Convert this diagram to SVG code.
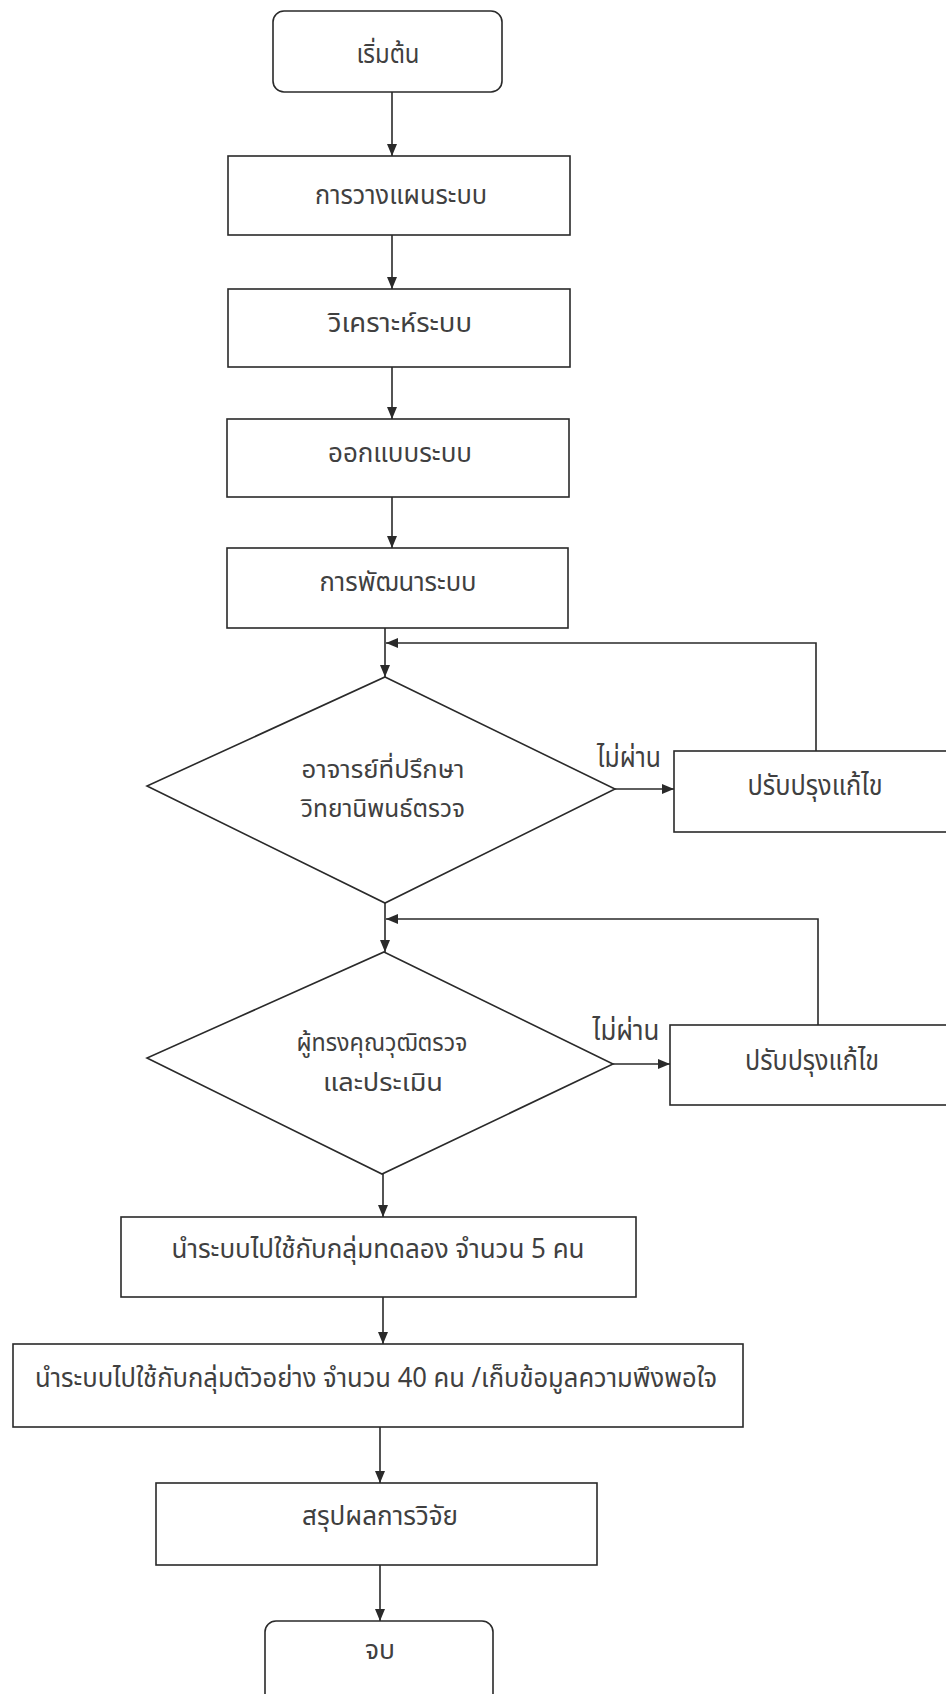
<svg xmlns="http://www.w3.org/2000/svg" width="946" height="1694" viewBox="0 0 946 1694">
<defs>
<style>
.n{fill:#fff;stroke:#2a2a2a;stroke-width:1.6}
.c{fill:none;stroke:#2a2a2a;stroke-width:1.6}
.t{font-family:"Noto Sans Thai","Noto Sans","DejaVu Sans",sans-serif;font-size:27px;fill:#404040;text-anchor:middle}
.d{font-family:"Noto Sans Thai","Noto Sans","DejaVu Sans",sans-serif;font-size:28px;fill:#404040;text-anchor:middle}
.q{font-family:"Noto Sans Thai","Noto Sans","DejaVu Sans",sans-serif;font-size:25px;fill:#404040;text-anchor:middle}
</style>
<marker id="ah" viewBox="0 0 12 10" refX="12" refY="5" markerWidth="12" markerHeight="10" markerUnits="userSpaceOnUse" orient="auto">
<path d="M0,0 L12,5 L0,10 Z" fill="#2a2a2a"/>
</marker>
</defs>
<rect width="946" height="1694" fill="#fff"/>
<g id="connectors">
<line class="c" x1="392" y1="92" x2="392" y2="156" marker-end="url(#ah)"/>
<line class="c" x1="392" y1="235" x2="392" y2="289" marker-end="url(#ah)"/>
<line class="c" x1="392" y1="367" x2="392" y2="419" marker-end="url(#ah)"/>
<line class="c" x1="392" y1="497" x2="392" y2="548" marker-end="url(#ah)"/>
<line class="c" x1="385" y1="628" x2="385" y2="677" marker-end="url(#ah)"/>
<polyline class="c" points="816,751 816,643 386,643" marker-end="url(#ah)"/>
<line class="c" x1="615" y1="789" x2="674" y2="789" marker-end="url(#ah)"/>
<line class="c" x1="385" y1="903" x2="385" y2="952" marker-end="url(#ah)"/>
<polyline class="c" points="818,1025 818,919 386,919" marker-end="url(#ah)"/>
<line class="c" x1="613" y1="1064" x2="670" y2="1064" marker-end="url(#ah)"/>
<line class="c" x1="383" y1="1174" x2="383" y2="1217" marker-end="url(#ah)"/>
<line class="c" x1="383" y1="1297" x2="383" y2="1344" marker-end="url(#ah)"/>
<line class="c" x1="380" y1="1427" x2="380" y2="1483" marker-end="url(#ah)"/>
<line class="c" x1="380" y1="1565" x2="380" y2="1621" marker-end="url(#ah)"/>
<text class="d" x="629" y="767" textLength="64" lengthAdjust="spacingAndGlyphs">ไม่ผ่าน</text>
<text class="d" x="626" y="1040" textLength="67" lengthAdjust="spacingAndGlyphs">ไม่ผ่าน</text>
</g>
<g id="start"><rect class="n" x="273" y="11" width="229" height="81" rx="11"/><text class="t" x="388" y="63" textLength="63" lengthAdjust="spacingAndGlyphs">เริ่มต้น</text></g>
<g id="plan"><rect class="n" x="228" y="156" width="342" height="79"/><text class="t" x="401" y="204" textLength="172" lengthAdjust="spacingAndGlyphs">การวางแผนระบบ</text></g>
<g id="analyze"><rect class="n" x="228" y="289" width="342" height="78"/><text class="t" x="400" y="332" textLength="144" lengthAdjust="spacingAndGlyphs">วิเคราะห์ระบบ</text></g>
<g id="design"><rect class="n" x="227" y="419" width="342" height="78"/><text class="t" x="400" y="462" textLength="144" lengthAdjust="spacingAndGlyphs">ออกแบบระบบ</text></g>
<g id="develop"><rect class="n" x="227" y="548" width="341" height="80"/><text class="t" x="398" y="591" textLength="157" lengthAdjust="spacingAndGlyphs">การพัฒนาระบบ</text></g>
<g id="advisor"><polygon class="n" points="385,677 615,789 385,903 147,786"/><text class="q" x="383" y="778" textLength="163" lengthAdjust="spacingAndGlyphs">อาจารย์ที่ปรึกษา</text><text class="q" x="383" y="817" textLength="164" lengthAdjust="spacingAndGlyphs">วิทยานิพนธ์ตรวจ</text></g>
<g id="fix1"><rect class="n" x="674" y="751" width="280" height="81"/><text class="d" x="815" y="795" textLength="135" lengthAdjust="spacingAndGlyphs">ปรับปรุงแก้ไข</text></g>
<g id="expert"><polygon class="n" points="384,952 613,1064 382,1174 147,1058"/><text class="q" x="382" y="1051" textLength="171" lengthAdjust="spacingAndGlyphs">ผู้ทรงคุณวุฒิตรวจ</text><text class="q" x="383" y="1091" textLength="120" lengthAdjust="spacingAndGlyphs">และประเมิน</text></g>
<g id="fix2"><rect class="n" x="670" y="1025" width="284" height="80"/><text class="d" x="812" y="1070" textLength="134" lengthAdjust="spacingAndGlyphs">ปรับปรุงแก้ไข</text></g>
<g id="trial"><rect class="n" x="121" y="1217" width="515" height="80"/><text class="t" x="378" y="1258" textLength="413" lengthAdjust="spacingAndGlyphs">นำระบบไปใช้กับกลุ่มทดลอง จำนวน 5 คน</text></g>
<g id="sample"><rect class="n" x="13" y="1344" width="730" height="83"/><text class="t" x="376" y="1387" textLength="682" lengthAdjust="spacingAndGlyphs">นำระบบไปใช้กับกลุ่มตัวอย่าง จำนวน 40 คน /เก็บข้อมูลความพึงพอใจ</text></g>
<g id="conclude"><rect class="n" x="156" y="1483" width="441" height="82"/><text class="t" x="380" y="1525" textLength="156" lengthAdjust="spacingAndGlyphs">สรุปผลการวิจัย</text></g>
<g id="end"><rect class="n" x="265" y="1621" width="228" height="90" rx="11"/><text class="t" x="380" y="1659" textLength="30" lengthAdjust="spacingAndGlyphs">จบ</text></g>
</svg>
